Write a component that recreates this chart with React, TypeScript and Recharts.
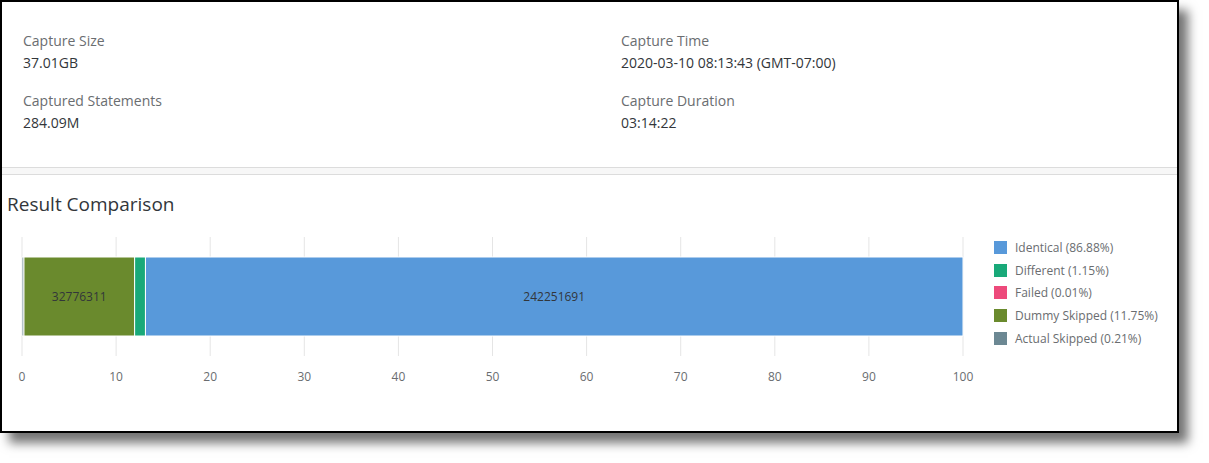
import React from 'react';
import { BarChart, Bar, XAxis, YAxis, CartesianGrid, Legend, LabelList } from 'recharts';

const categories = ['Result'];
const seriesKeys = ['actual', 'dummy', 'failed', 'different', 'identical'];
const seriesNames = ['Actual Skipped', 'Dummy Skipped', 'Failed', 'Different', 'Identical'];
const seriesColors = ['#6c8893', '#6a8a2d', '#ed4a7b', '#19a979', '#5899da'];
const percentages = [0.21, 11.75, 0.01, 1.15, 86.88];
const counts = [585000, 32776311, 27900, 3206000, 242251691];
const labelledSeries = ['dummy', 'identical'];
const xTicks = [0, 10, 20, 30, 40, 50, 60, 70, 80, 90, 100];

const infoItems = [
  { label: 'Capture Size', value: '37.01GB', x: 23, y: 30 },
  { label: 'Captured Statements', value: '284.09M', x: 23, y: 90 },
  { label: 'Capture Time', value: '2020-03-10 08:13:43 (GMT-07:00)', x: 621, y: 30 },
  { label: 'Capture Duration', value: '03:14:22', x: 621, y: 90 },
];

const row: Record<string, string | number> = { name: categories[0] };
seriesKeys.forEach((k, i) => {
  row[k] = percentages[i];
  row[k + 'Count'] = counts[i];
});
const data = [row];

const font = '"Open Sans", Lato, sans-serif';

const LegendBox = () => (
  <div style={{ fontFamily: font, fontSize: 12, color: '#6a6d70' }}>
    {seriesKeys
      .map((k, i) => ({ k, name: seriesNames[i], color: seriesColors[i], pct: percentages[i] }))
      .reverse()
      .map((s) => (
        <div key={s.k} style={{ display: 'flex', alignItems: 'center', height: 22.8 }}>
          <span style={{ width: 13, height: 13, background: s.color, marginRight: 8, display: 'inline-block' }} />
          <span>{`${s.name} (${s.pct.toFixed(2)}%)`}</span>
        </div>
      ))}
  </div>
);

export default function App() {
  return (
    <div style={{ position: 'absolute', left: 0, top: 0, width: 1209, height: 463, background: '#fff', fontFamily: font }}>
      <div
        style={{
          position: 'absolute', left: 0, top: 0, width: 1175, height: 429,
          border: '2px solid #000', background: '#fff',
          boxShadow: '9px 10px 10px rgba(0,0,0,0.55)',
        }}
      />
      {infoItems.map((it) => (
        <div key={it.label} style={{ position: 'absolute', left: it.x, top: it.y, fontSize: 14, lineHeight: '22px' }}>
          <div style={{ color: '#6a6d70' }}>{it.label}</div>
          <div style={{ color: '#32363a' }}>{it.value}</div>
        </div>
      ))}
      <div style={{ position: 'absolute', left: 2, top: 167, width: 1175, height: 8, boxSizing: 'border-box', borderTop: '1px solid #dcdcdc', borderBottom: '1px solid #dcdcdc', background: '#f7f7f7' }} />
      <div style={{ position: 'absolute', left: 7, top: 191, fontSize: 19, color: '#32363a', lineHeight: '26px' }}>
        Result Comparison
      </div>
      <div style={{ position: 'absolute', left: 0, top: 225 }}>
        <BarChart
          width={1180}
          height={175}
          data={data}
          layout="vertical"
          margin={{ top: 12, right: 217, left: 22, bottom: 14 }}
          barSize={79}
        >
          <CartesianGrid horizontal={false} stroke="#e5e5e5" />
          <XAxis
            type="number"
            domain={[0, 100]}
            ticks={xTicks}
            axisLine={false}
            tickLine={false}
            tickMargin={10}
            tick={{ fontSize: 12, fill: '#6a6d70', fontFamily: font }}
          />
          <YAxis type="category" dataKey="name" hide />
          <Legend
            layout="horizontal"
            align="center"
            verticalAlign="middle"
            content={<LegendBox />}
            wrapperStyle={{ left: 994, top: 11, width: 180 }}
          />
          {seriesKeys.map((k, i) => (
            <Bar
              key={k}
              dataKey={k}
              name={seriesNames[i]}
              stackId="a"
              fill={seriesColors[i]}
              stroke="#ffffff"
              strokeWidth={1}
              isAnimationActive={false}
            >
              {labelledSeries.includes(k) && (
                <LabelList
                  dataKey={k + 'Count'}
                  position="center"
                  fill="#32363a"
                  fontSize={12}
                  fontFamily={font}
                />
              )}
            </Bar>
          ))}
        </BarChart>
      </div>
    </div>
  );
}
